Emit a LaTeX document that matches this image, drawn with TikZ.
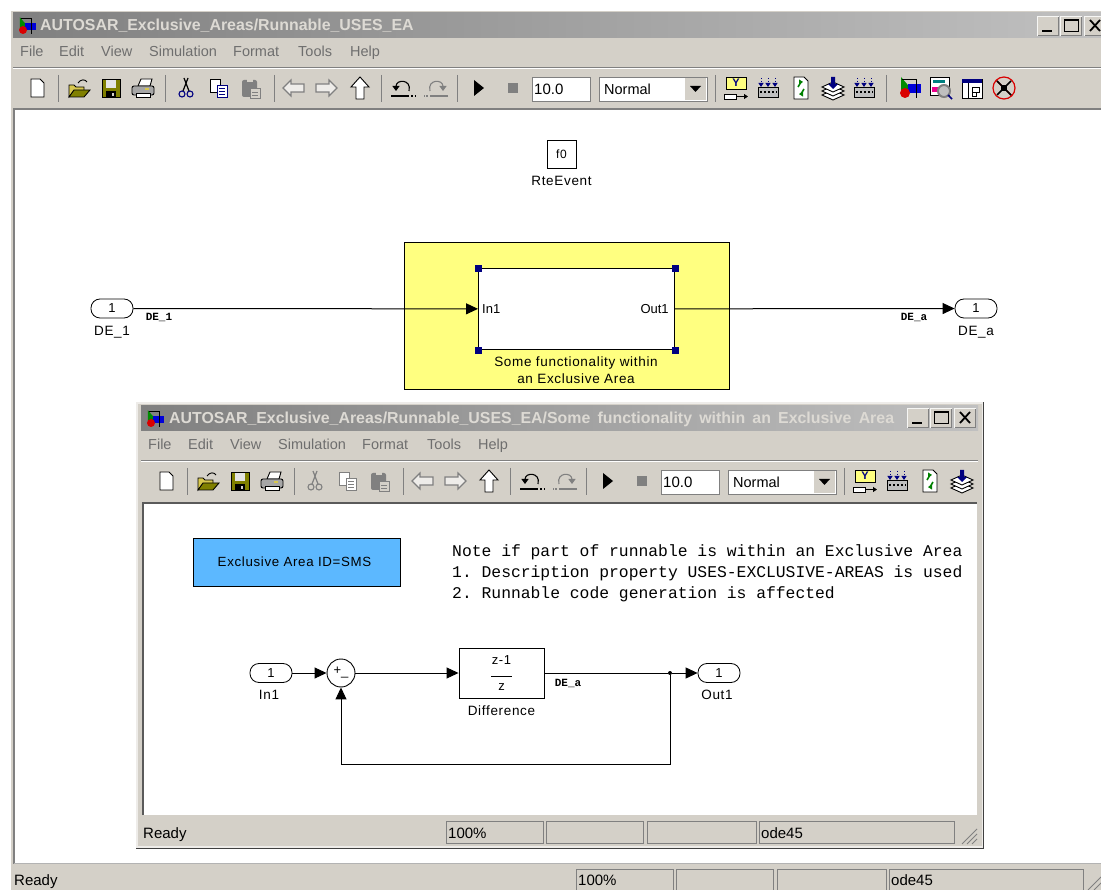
\documentclass[tikz,border=0pt]{standalone}
\usepackage{fontspec}
\setmainfont{Liberation Sans}
\newfontfamily\simfont[LetterSpace=5]{Liberation Sans}
\newfontfamily\notefont{Liberation Mono}
\usetikzlibrary{arrows.meta,positioning}
\definecolor{winbase}{HTML}{D4D0C8}
\definecolor{winshade}{HTML}{808080}
\definecolor{titleleft}{HTML}{808080}
\definecolor{titleright}{HTML}{C0C0C0}
\definecolor{titletext}{HTML}{DDDAD4}
\definecolor{menutext}{HTML}{6E6E6E}
\definecolor{areayellow}{HTML}{FFFF80}
\definecolor{areablue}{HTML}{5CB8FF}
\definecolor{icongold}{HTML}{D8C850}
\definecolor{iconolive}{HTML}{808000}
\definecolor{iconnavy}{HTML}{000080}
\def\fsz#1{\fontsize{#1}{#1}\selectfont}
\tikzstyle{signal} = [-{Triangle[length=12pt,width=11pt]},line width=1pt]
\tikzstyle{wire} = [-,line width=1pt]
\tikzstyle{port} = [draw,line width=0.8pt,rounded corners=9pt,minimum width=42pt,minimum height=19pt,inner sep=0,fill=white,font=\simfont\fsz{13}]
\tikzstyle{block} = [draw,line width=0.9pt,fill=white,inner sep=0,align=center,font=\simfont\fsz{13}]
\tikzstyle{tag} = [inner sep=0,align=center,font=\simfont\fsz{13.5}]
\tikzstyle{subtag} = [inner sep=0,font=\fsz{13}]
\tikzstyle{sigtag} = [inner sep=0,font=\notefont\bfseries\fsz{11}]
\tikzstyle{handle} = [draw=iconnavy,fill=iconnavy,minimum size=6pt,inner sep=0]
\tikzstyle{junction} = [circle,fill=black,minimum size=4pt,inner sep=0]
\tikzstyle{menuitem} = [anchor=base west,inner sep=0,text=menutext,font=\fsz{14.5}]
\tikzstyle{titletag} = [anchor=west,inner sep=0,text=titletext,font=\bfseries\fsz{15.9}]
\tikzstyle{statustag} = [anchor=base west,inner sep=0,font=\fsz{15}]
\tikzstyle{notetag} = [anchor=base west,inner sep=0,font=\notefont\frenchspacing\fsz{16.35}]
\tikzstyle{iconline} = [line width=0.9pt,black]
\tikzstyle{sunken} = [draw=winshade,line width=1pt,fill=white]
\tikzstyle{statusbox} = [draw=winshade,line width=0.8pt,fill=winbase]
\newcommand{\iconnew}[1]{\begin{scope}[shift={(#1,88)}]
  \draw[iconline,fill=white] (-6,-9) -- (3,-9) -- (7,-5) -- (7,9) -- (-6,9) -- cycle;
\end{scope}}
\newcommand{\iconopen}[1]{\begin{scope}[shift={(#1,88)}]
  \draw[iconline,fill=icongold] (-10,9) -- (-10,-3) -- (-5,-3) -- (-3,-1) -- (5,-1) -- (5,3) -- (-5,3) -- cycle;
  \draw[iconline,fill=iconolive] (-10,9) -- (-5,2) -- (11,2) -- (5,9) -- cycle;
  \draw[iconline] (-1,-5) .. controls (2,-9) and (6,-9) .. (8,-6);
\end{scope}}
\newcommand{\iconsave}[1]{\begin{scope}[shift={(#1,88)}]
  \draw[iconline,fill=iconolive] (-9,-9) rectangle (9,9);
  \fill[white!90!black] (-5,-8) rectangle (5,0);
  \fill[black] (-5,3) rectangle (5,9);
  \fill[winbase] (1,5) rectangle (3,8);
\end{scope}}
\newcommand{\iconprint}[1]{\begin{scope}[shift={(#1,88)}]
  \draw[iconline,fill=white] (-5,-2) -- (-2,-9) -- (9,-9) -- (7,-2) -- cycle;
  \draw[iconline,fill=black!35,rounded corners=2pt] (-11,-2) rectangle (11,7);
  \draw[iconline,fill=white] (-7,5) rectangle (7,9);
  \fill[icongold] (2,0) rectangle (6,2);
\end{scope}}
\newcommand{\iconcut}[1]{\begin{scope}[shift={(#1,88)}]
  \draw[cutink,line width=1.2pt] (-2,-10) -- (3,3) (2,-10) -- (-3,3);
  \draw[cutring,line width=1.1pt] (-4,6) circle (3) (4,6) circle (3);
\end{scope}}
\newcommand{\iconcopy}[1]{\begin{scope}[shift={(#1,88)}]
  \draw[cutink,line width=0.9pt,fill=white] (-9,-9) rectangle (1,4);
  \draw[cutring,line width=0.9pt,fill=white] (-2,-3) rectangle (8,9);
  \draw[cutring,line width=0.8pt] (0,0) -- (6,0) (0,3) -- (6,3) (0,6) -- (6,6);
\end{scope}}
\newcommand{\iconpaste}[1]{\begin{scope}[shift={(#1,88)}]
  \fill[winshade,rounded corners=2pt] (-9,-8) rectangle (6,9);
  \fill[winbase] (-4,-10) rectangle (2,-6);
  \draw[winshade,fill=winbase,line width=0.9pt] (-1,0) rectangle (9,10);
  \draw[winshade,line width=0.8pt] (1,4) -- (7,4) (1,7) -- (7,7);
\end{scope}}
\newcommand{\iconback}[2]{\begin{scope}[shift={(#1,88)},xscale=#2]
  \draw[winshade,line width=1.1pt,fill=winbase!40!white] (-11,0) -- (-3,-8) -- (-3,-4) -- (10,-4) -- (10,4) -- (-3,4) -- (-3,8) -- cycle;
\end{scope}}
\newcommand{\iconup}[1]{\begin{scope}[shift={(#1,88)}]
  \draw[iconline,fill=white] (0,-11) -- (9,-1) -- (4,-1) -- (4,11) -- (-4,11) -- (-4,-1) -- (-9,-1) -- cycle;
\end{scope}}
\newcommand{\iconundo}[3]{\begin{scope}[shift={(#1,88)},xscale=#2]
  \draw[#3,line width=1.1pt,-{Triangle[length=5pt,width=7pt]}] (6,3) .. controls (9,-9) and (-7,-9) .. (-7,3);
  \draw[#3,line width=1.4pt] (-12,8) -- (5,8);
  \draw[#3,line width=1.4pt,dotted] (5,8) -- (12,8);
\end{scope}}
\newcommand{\iconplay}[1]{\fill[black] (#1-5,80) -- (#1+5,88) -- (#1-5,96) -- cycle;}
\newcommand{\iconstop}[1]{\fill[winshade] (#1-5,83) rectangle (#1+5,93);}
\newcommand{\iconyblock}[1]{\begin{scope}[shift={(#1,88)}]
  \draw[iconline,fill=areayellow] (-10,-11) rectangle (10,1);
  \node[inner sep=0,text=iconnavy,font=\bfseries\fsz{11}] (yLetter#1) at (0,-5) {Y};
  \draw[iconline,fill=white] (-12,6) rectangle (0,11);
  \draw[iconline,-{Triangle[length=4pt,width=5pt]}] (0,8.5) -- (12,8.5);
\end{scope}}
\newcommand{\iconkeys}[1]{\begin{scope}[shift={(#1,88)}]
  \draw[iconline,fill=black!25] (-10,-1) rectangle (10,9);
  \draw[black,line width=2pt,dotted] (-8,4) -- (9,4);
  \foreach \k in {-7,0,7} {\draw[iconnavy,line width=0.9pt,dotted,-{Triangle[length=4pt,width=5pt]}] (\k,-10) -- (\k,-1);}
\end{scope}}
\newcommand{\iconrefresh}[1]{\begin{scope}[shift={(#1,88)}]
  \draw[iconline,fill=white] (-7,-11) -- (3,-11) -- (7,-7) -- (7,11) -- (-7,11) -- cycle;
  \draw[green!50!black,line width=1.6pt,-{Triangle[length=4pt,width=5pt]}] (-3,-1) -- (0,-6) -- (2,-6);
  \draw[green!50!black,line width=1.6pt,-{Triangle[length=4pt,width=5pt]}] (3,1) -- (0,6) -- (-2,6);
\end{scope}}
\newcommand{\iconstack}[1]{\begin{scope}[shift={(#1,88)}]
  \foreach \l in {7,3,-1} {\draw[iconline,fill=white] (-11,\l) -- (0,\l-5) -- (11,\l) -- (0,\l+5) -- cycle;}
  \fill[iconnavy] (-2,-11) rectangle (2,-4) (-5,-4) -- (5,-4) -- (0,1) -- cycle;
\end{scope}}
\newcommand{\iconmodel}[3]{\begin{scope}[shift={(#1,#2)},scale=#3]
  \fill[green!55!black] (-9,-11) -- (-9,3) -- (3,3) -- cycle;
  \fill[blue!85!black] (-2,-4) rectangle (11,5);
  \fill[red!85!black] (-5,5) circle (5);
  \draw[black,line width=0.9pt] (-8,-9) -- (6,-9) -- (6,10);
\end{scope}}
\newcommand{\iconlens}[1]{\begin{scope}[shift={(#1,88)}]
  \draw[iconline,fill=white] (-11,-11) rectangle (8,7);
  \fill[teal] (-8,-8) rectangle (4,-5);
  \fill[magenta] (-9,-1) rectangle (-3,4);
  \draw[winshade,line width=2pt,fill=black!25] (3,3) circle (6);
  \draw[iconnavy,line width=1.5pt] (7,7) -- (11,11);
\end{scope}}
\newcommand{\iconexplore}[1]{\begin{scope}[shift={(#1,88)}]
  \draw[iconline,fill=white] (-10,-9) rectangle (10,10);
  \fill[iconnavy] (-10,-9) rectangle (10,-5);
  \draw[iconline] (-4,-5) -- (-4,10) (0,-1) rectangle (7,4) (0,4) rectangle (4,8);
\end{scope}}
\newcommand{\iconbug}[1]{\begin{scope}[shift={(#1,88)}]
  \draw[red!85!black,line width=1.2pt] (0,0) circle (11) (-8,-8) -- (8,8);
  \fill[black] (-3,-3) rectangle (3,3);
  \draw[black,line width=1.5pt] (-7,-7) -- (7,7) (-7,7) -- (7,-7);
\end{scope}}
\newcommand{\toolsep}[1]{\draw[winshade,line width=1pt] (#1,75) -- (#1,102);}
\newcommand{\toolrow}{
  \foreach \x in {58,165,274,381,457,715} {\toolsep{\x}}
  \iconnew{37} \iconopen{79} \iconsave{111} \iconprint{143}
  \iconcut{186} \iconcopy{219} \iconpaste{251}
  \iconback{294}{1} \iconback{326}{-1} \iconup{360}
  \iconundo{403}{1}{black} \iconundo{436}{-1}{winshade}
  \iconplay{479} \iconstop{513}
  \iconyblock{736} \iconkeys{768} \iconrefresh{801} \iconstack{833}
}
\newcommand{\winctrl}[2]{\begin{scope}[shift={(#1,#2)}]
  \foreach \a/\b in {0/22,23/45,47/69} {
    \fill[winbase!20!white] (\a,0) rectangle (\b,20);
    \fill[winshade] (\a+1,1) rectangle (\b,20);
    \fill[winbase] (\a+1,1) rectangle (\b-1,19);
  }
  \draw[black,line width=2pt] (5,15) -- (15,15);
  \draw[black,line width=1pt] (27,4) rectangle (41,16);
  \draw[black,line width=2pt] (27,4) -- (41,4);
  \draw[black,line width=1.8pt] (53,4) -- (63,15) (63,4) -- (53,15);
\end{scope}}
\begin{document}
\begin{tikzpicture}[x=1pt,y=-1pt]
  \clip (0,0) rectangle (1101,890);
  \fill[white] (0,0) rectangle (1101,890);
  \fill[winbase] (11,11) rectangle (1101,890);
  \shade[left color=titleleft,right color=titleright] (13,13) rectangle (1101,38);
  \iconmodel{27}{26}{0.8}
  \node[titletag] (outerTitle) at (40,26) {AUTOSAR\_Exclusive\_Areas/Runnable\_USES\_EA};
  \winctrl{1037}{16}
  \node[menuitem] (menuFile) at (20,57) {File};
  \node[menuitem] (menuEdit) at (59,57) {Edit};
  \node[menuitem] (menuView) at (101,57) {View};
  \node[menuitem] (menuSim) at (149,57) {Simulation};
  \node[menuitem] (menuFormat) at (233,57) {Format};
  \node[menuitem] (menuTools) at (298,57) {Tools};
  \node[menuitem] (menuHelp) at (350,57) {Help};
  \draw[winshade,line width=1pt] (13,67.5) -- (1101,67.5);
  \draw[white,line width=1pt] (13,68.5) -- (1101,68.5);
  \colorlet{cutink}{black}
  \colorlet{cutring}{iconnavy}
  \toolrow
  \toolsep{886}
  \iconkeys{864} \iconmodel{910}{88}{1} \iconlens{941} \iconexplore{972} \iconbug{1004}
  \node[sunken,anchor=north west,minimum width=58pt,minimum height=24pt,inner sep=0] (stopBox) at (532,77) {};
  \node[anchor=west,inner sep=0,font=\fsz{15}] (stopTime) at (534,89) {10.0};
  \node[sunken,anchor=north west,minimum width=108pt,minimum height=24pt,inner sep=0] (modeBox) at (599,77) {};
  \node[anchor=west,inner sep=0,font=\fsz{14.5}] (modeText) at (604,89) {Normal};
  \fill[winbase] (685,78) rectangle (706,100);
  \fill[black] (690,86) -- (701,86) -- (695.5,92) -- cycle;
  \fill[white] (15,110) rectangle (1101,863);
  \draw[winshade,line width=1.5pt] (14,890) -- (14,109) -- (1101,109);
  \draw[winshade!60!white,line width=1pt] (14,863) -- (1101,863);
  \node[block,minimum width=29pt,minimum height=28pt,font=\simfont\fsz{12}] (rteBlock) at (561.5,154) {f0};
  \node[tag,below=8pt of rteBlock] (rteLabel) {RteEvent};
  \fill[areayellow] (404,242) rectangle (729,389);
  \draw[line width=0.9pt] (404,242) rectangle (729,389);
  \node[block,minimum width=196pt,minimum height=81pt,anchor=north west] (subsystem) at (478,268) {};
  \foreach \corner/\n in {north west/a,north east/b,south west/c,south east/d} {
    \node[handle] (handle\n) at (subsystem.\corner) {};
  }
  \node[subtag,anchor=west,xshift=4pt] (subIn) at (subsystem.west) {In1};
  \node[subtag,anchor=east,xshift=-6pt] (subOut) at (subsystem.east) {Out1};
  \node[tag] (subLabel) at (576,370) {Some functionality within\\[4pt]an Exclusive Area};
  \node[port] (deIn) at (112,308.5) {1};
  \node[tag,below=8pt of deIn] (deInLabel) {DE\_1};
  \node[sigtag] (deInSig) at (159,317) {DE\_1};
  \node[port] (deOut) at (976,308.5) {1};
  \node[tag,below=8pt of deOut] (deOutLabel) {DE\_a};
  \node[sigtag] (deOutSig) at (914,317) {DE\_a};
  \draw[signal] (deIn) -- (subsystem);
  \draw[signal] (subsystem) -- (deOut);
  \fill[winbase] (13,863.5) rectangle (1101,890);
  \node[statustag] (outerReady) at (14,885) {Ready};
  \draw[statusbox] (576,869) rectangle (673,890);
  \draw[statusbox] (676,869) rectangle (773,890);
  \draw[statusbox] (777,869) rectangle (886,890);
  \draw[statusbox] (889,869) rectangle (1083,890);
  \node[statustag] (outerZoom) at (578,885) {100\%};
  \node[statustag] (outerSolver) at (891,885) {ode45};
  \draw[winshade,line width=1pt] (1088,890) -- (1101,877) (1094,890) -- (1101,883);
  \fill[winshade!50!black] (136,402) rectangle (984,849);
  \fill[winbase!40!white] (136,402) rectangle (983,848);
  \fill[winbase] (138,404) rectangle (982,846);
  \shade[left color=titleleft,right color=titleright] (141,406) rectangle (978,431);
  \iconmodel{155}{419}{0.8}
  \node[titletag] (innerTitle) at (169,419) {\spaceskip=7.2pt AUTOSAR\_Exclusive\_Areas/Runnable\_USES\_EA/Some functionality within an Exclusive Area};
  \winctrl{907}{408}
  \node[menuitem] (innerFile) at (148,450) {File};
  \node[menuitem] (innerEdit) at (188,450) {Edit};
  \node[menuitem] (innerView) at (230,450) {View};
  \node[menuitem] (innerSim) at (278,450) {Simulation};
  \node[menuitem] (innerFormat) at (362,450) {Format};
  \node[menuitem] (innerTools) at (427,450) {Tools};
  \node[menuitem] (innerHelp) at (478,450) {Help};
  \draw[winshade,line width=1pt] (141,460.5) -- (978,460.5);
  \draw[white,line width=1pt] (141,461.5) -- (978,461.5);
  \begin{scope}[shift={(129,393)}]
    \colorlet{cutink}{winshade}
    \colorlet{cutring}{winshade}
    \toolrow
  \end{scope}
  \node[sunken,anchor=north west,minimum width=58pt,minimum height=24pt,inner sep=0] (innerStopBox) at (661,470) {};
  \node[anchor=west,inner sep=0,font=\fsz{15}] (innerStopTime) at (663,482) {10.0};
  \node[sunken,anchor=north west,minimum width=108pt,minimum height=24pt,inner sep=0] (innerModeBox) at (728,470) {};
  \node[anchor=west,inner sep=0,font=\fsz{14.5}] (innerModeText) at (733,482) {Normal};
  \fill[winbase] (814,471) rectangle (835,493);
  \fill[black] (819,479) -- (830,479) -- (824.5,485) -- cycle;
  \fill[white] (143,503) rectangle (977,815);
  \draw[winshade!70!black,line width=1.5pt] (143,815) -- (143,503) -- (977,503);
  \node[draw,line width=0.9pt,fill=areablue,minimum width=207pt,minimum height=48pt,inner sep=0,font=\simfont\fsz{13.3}] (areaId) at (296.5,562) {\hspace*{-4pt}Exclusive Area ID=SMS};
  \node[notetag] (noteA) at (452,556) {Note if part of runnable is within an Exclusive Area};
  \node[notetag] (noteB) at (452,577) {1. Description property USES-EXCLUSIVE-AREAS is used};
  \node[notetag] (noteC) at (452,598) {2. Runnable code generation is affected};
  \node[port] (portIn) at (271,673) {1};
  \node[tag,below=7pt of portIn,xshift=-2pt] (portInLabel) {In1};
  \node[draw,circle,line width=0.9pt,fill=white,minimum size=28pt,inner sep=0,font=\fsz{13}] (sum) at (341,673) {+\raisebox{-1pt}{\_}};
  \node[block,minimum width=85pt,minimum height=50pt,font=\simfont\fsz{13}] (difference) at (501.5,673) {z-1\\[-1pt]\rule{21pt}{0.9pt}\\[1pt]z};
  \node[tag,below=7pt of difference] (differenceLabel) {Difference};
  \node[sigtag] (diffSig) at (568,683) {DE\_a};
  \node[junction] (branch) at (670,673) {};
  \node[port] (portOut) at (719,673) {1};
  \node[tag,below=7pt of portOut,xshift=-2pt] (portOutLabel) {Out1};
  \coordinate (feedback) at (341,764.5);
  \draw[signal] (portIn) -- (sum);
  \draw[signal] (sum) -- (difference);
  \draw[wire] (difference) -- (branch);
  \draw[signal] (branch) -- (portOut);
  \draw[signal] (branch) |- (feedback) -- (sum);
  \draw[statusbox] (446,821) rectangle (543,843);
  \draw[statusbox] (546,821) rectangle (643,843);
  \draw[statusbox] (647,821) rectangle (756,843);
  \draw[statusbox] (759,821) rectangle (954,843);
  \node[statustag] (innerReady) at (143,838) {Ready};
  \node[statustag] (innerZoom) at (448,838) {100\%};
  \node[statustag] (innerSolver) at (761,838) {ode45};
  \draw[winshade,line width=1pt] (962,844) -- (977,829) (967,844) -- (977,834) (972,844) -- (977,839);
\end{tikzpicture}
\end{document}
